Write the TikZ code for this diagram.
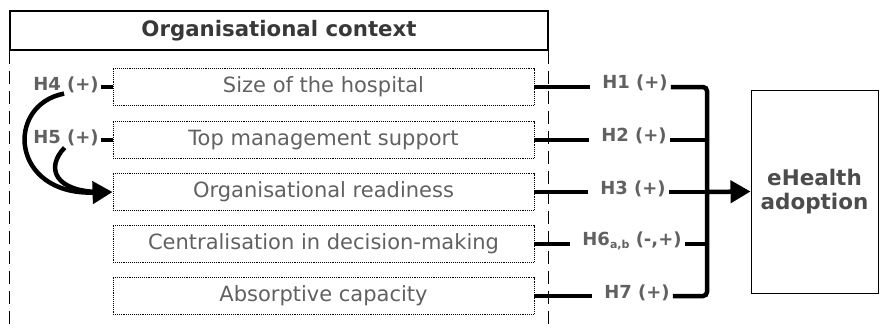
\documentclass[tikz,border=0pt]{standalone}
\usepackage{fontspec}
\setmainfont{DejaVu Sans}
\usetikzlibrary{arrows.meta}
\begin{document}
\begin{tikzpicture}[x=1pt,y=-1pt,
  factor/.style={draw, densely dotted, line width=0.9pt, minimum width=421pt, minimum height=37pt, inner sep=0pt, font=\fontsize{21}{25}\selectfont, text=black!62},
  hyp/.style={inner sep=0pt, font=\fontsize{18}{21}\selectfont\bfseries, text=black!62},
  conn/.style={line width=4.5pt},
  dashln/.style={dash pattern=on 13pt off 7pt, line width=1.3pt},
  bigtip/.style={-{Triangle[length=20pt,width=22pt]}}]
\useasboundingbox (0,0) rectangle (880,329);
% title
\node[draw, line width=1.4pt, minimum width=538pt, minimum height=39pt, inner sep=0pt,
      font=\fontsize{21.3}{25}\selectfont\bfseries, text=black!78] (title) at (279,30.5) {Organisational context};
\coordinate (bottom) at (0,329);
\draw[dashln] (title.south west) -- (title.south west |- bottom);
\draw[dashln] (title.south east) -- (title.south east |- bottom);
% factor boxes
\node[factor] (b1) at (323.5,87) {Size of the hospital};
\node[factor] (b2) at (323.5,140) {Top management support};
\node[factor] (b3) at (323.5,192) {Organisational readiness};
\node[factor] (b4) at (323.5,244) {Centralisation in decision-making};
\node[factor] (b5) at (323.5,296) {Absorptive capacity};
% outcome
\node[draw, line width=1pt, minimum width=127pt, minimum height=203pt, inner sep=0pt, align=center,
      font=\fontsize{21.5}{24}\selectfont\bfseries, text=black!70] (eh) at (814.5,191.5) {eHealth\\adoption};
% left hypotheses
\node[hyp] (h4) at (66,85) {H4 (+)};
\node[hyp] (h5) at (66,138) {H5 (+)};
\draw[line width=3.5pt, shorten <=2pt] (h4.east |- b1.west) -- (b1.west);
\draw[line width=3.5pt, shorten <=2pt] (h5.east |- b2.west) -- (b2.west);
\draw[conn, bigtip, shorten <=2pt] (h4.south) .. controls (5,105) and (10,195) .. (b3.west);
\draw[conn, shorten <=2pt] (h5.south) .. controls (45,168) and (55,192) .. ([xshift=-12pt]b3.west);
% right hypotheses
\node[hyp] (h1) at (635,83) {H1 (+)};
\node[hyp] (h2) at (634,136) {H2 (+)};
\node[hyp] (h3) at (633,189) {H3 (+)};
\node[hyp] (h6) at (632,241) {H6\raisebox{-0.3ex}{\fontsize{11}{13}\selectfont a,b} (-,+)};
\node[hyp] (h7) at (637,293) {H7 (+)};
\coordinate (bar) at (707,192);
\draw[conn, shorten >=12pt] (b1.east) -- (b1.east -| h1.west);
\draw[conn, shorten >=12pt] (b2.east) -- (b2.east -| h2.west);
\draw[conn, shorten >=12pt] (b3.east) -- (b3.east -| h3.west);
\draw[conn, shorten >=12pt] (b4.east) -- (b4.east -| h6.west);
\draw[conn, shorten >=12pt] (b5.east) -- (b5.east -| h7.west);
\draw[conn, rounded corners=4pt, shorten <=3pt, shorten >=3pt]
  (b1.east -| h1.east) -- (b1.east -| bar) -- (b5.east -| bar) -- (b5.east -| h7.east);
\draw[conn, shorten <=3pt] (b2.east -| h2.east) -- (b2.east -| bar);
\draw[conn, shorten <=3pt] (b3.east -| h3.east) -- (b3.east -| bar);
\draw[conn, shorten <=3pt] (b4.east -| h6.east) -- (b4.east -| bar);
\draw[conn, bigtip] (b3.east -| bar) -- (eh.west);
\end{tikzpicture}
\end{document}
